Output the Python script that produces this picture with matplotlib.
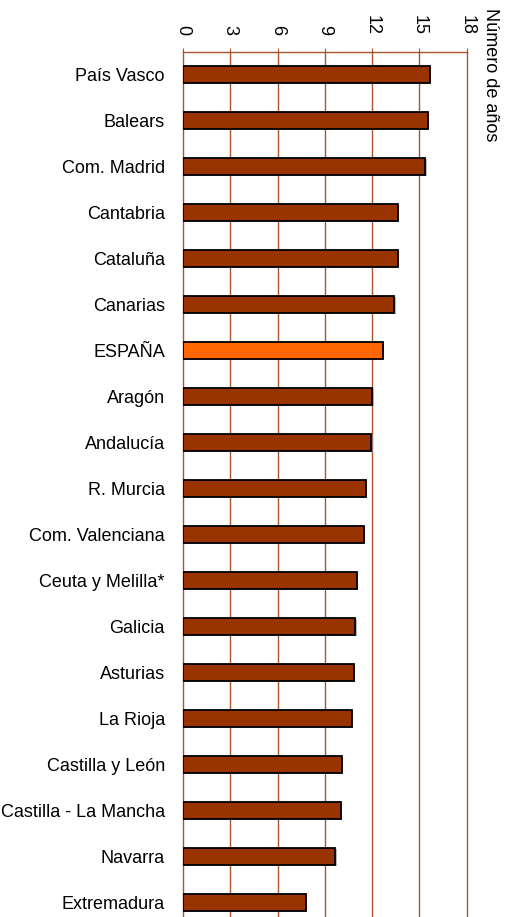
import matplotlib
matplotlib.use('Agg')
import matplotlib.pyplot as plt
import matplotlib.patheffects as pe
import numpy as np

regiones = ['País Vasco', 'Balears', 'Com. Madrid', 'Cantabria', 'Cataluña', 'Canarias',
            'ESPAÑA', 'Aragón', 'Andalucía', 'R. Murcia', 'Com. Valenciana',
            'Ceuta y Melilla*', 'Galicia', 'Asturias', 'La Rioja', 'Castilla y León',
            'Castilla - La Mancha', 'Navarra', 'Extremadura']
anos = [15.67, 15.53, 15.36, 13.62, 13.62, 13.41, 12.67, 12.0, 11.95, 11.6, 11.47,
        11.03, 10.94, 10.83, 10.71, 10.07, 10.01, 9.67, 7.79]
ticks = [0, 3, 6, 9, 12, 15, 18]

plt.rcParams['font.family'] = ['Liberation Sans', 'DejaVu Sans']
grid_col = '#A9562F'

fig = plt.figure(figsize=(5.09, 9.17), dpi=100)
ax = fig.add_axes([0.3595, 0.0, 0.5575, 0.9436])

y = np.arange(len(regiones))
colores = ['#FF6600' if r == 'ESPAÑA' else '#993300' for r in regiones]
bars = ax.barh(y, anos, height=0.38, color=colores, edgecolor='black', linewidth=1.3, zorder=3)
for b in bars:
    b.set_path_effects([pe.SimplePatchShadow(offset=(1, -1), shadow_rgbFace='#888888', alpha=0.6),
                        pe.Normal()])

ax.set_xlim(0, 18)
ax.set_ylim(18.32, -0.49)
ax.set_yticks(y)
ax.set_yticklabels(regiones, fontsize=13)
ax.tick_params(axis='y', length=0, pad=13)

ax.xaxis.tick_top()
ax.set_xticks(ticks)
ax.set_xticklabels([str(t) for t in ticks], rotation=-90, fontsize=13)
ax.tick_params(axis='x', length=3, color=grid_col, pad=9)

for t in ticks:
    ax.axvline(t, color=grid_col, linewidth=1.0, zorder=1, clip_on=False)

for s in ['left', 'right', 'bottom']:
    ax.spines[s].set_visible(False)
ax.spines['top'].set_color(grid_col)
ax.spines['top'].set_linewidth(1.0)

fig.text(490 / 509, 1 - 8 / 917, 'Número de años', rotation=-90, fontsize=13,
         ha='center', va='top')

fig.savefig('out.png', dpi=100)
